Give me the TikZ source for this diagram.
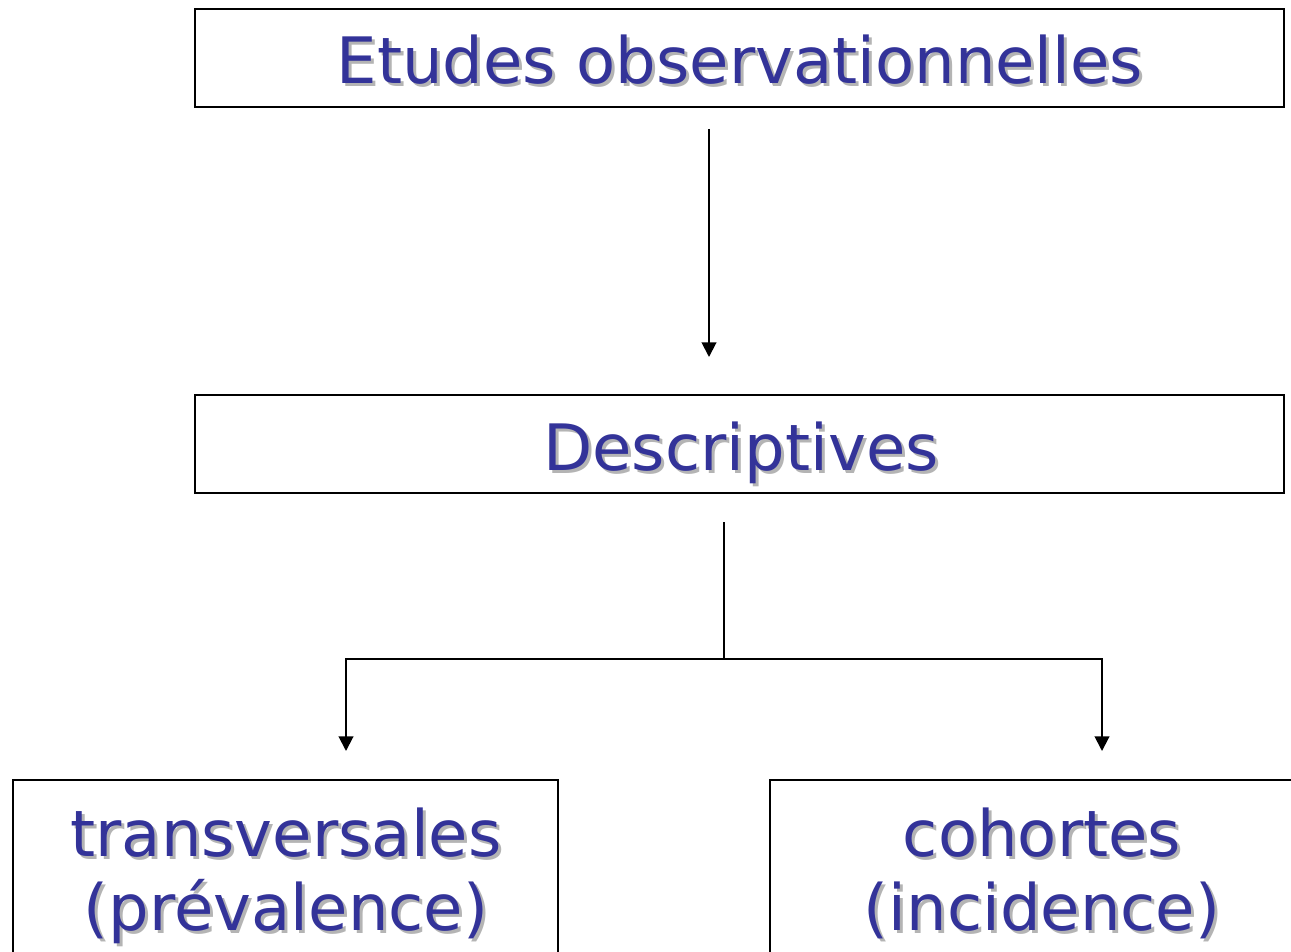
\documentclass[tikz,border=0pt]{standalone}
\usepackage{fontspec}
\setmainfont{DejaVu Sans}
\usetikzlibrary{arrows.meta,calc}
\definecolor{labelblue}{HTML}{333399}
\definecolor{labelshadow}{HTML}{B4B4B4}
\tikzset{
  frame/.style={draw=black, line width=1.6pt, fill=none},
  link/.style={draw=black, line width=1.5pt},
  arrowlink/.style={link, -{Triangle[length=11pt,width=11pt]}},
  caption/.style={font=\fontsize{48}{55}\selectfont, text=labelblue, inner sep=0pt, align=center, anchor=base},
  captionshadow/.style={caption, text=labelshadow},
}
% caption with a soft grey drop shadow behind it
\newcommand{\shadowedlabel}[3]{%
  \node[captionshadow] at ($(#2)+(3,3)$) {#3};
  \node[caption] (#1) at (#2) {#3};
}
\begin{document}
\begin{tikzpicture}[x=0.75pt, y=-0.75pt]
  \clip (0,0) rectangle (1291,952);
  \fill[white] (0,0) rectangle (1291,952);

  % boxes
  \node[frame, minimum width=1089*0.75pt, minimum height=98*0.75pt] (top) at (739.5,58) {};
  \node[frame, minimum width=1089*0.75pt, minimum height=98*0.75pt] (mid) at (739.5,444) {};
  \node[frame, minimum width=545*0.75pt, minimum height=300*0.75pt] (left) at (285.5,930) {};
  \node[frame, minimum width=544*0.75pt, minimum height=300*0.75pt] (right) at (1042,930) {};

  % captions (base = baseline of the last line)
  \coordinate (ptop) at (740,84);
  \coordinate (pmid) at (741,470);
  \coordinate (pleft) at (286,930);
  \coordinate (pright) at (1042,930);
  \shadowedlabel{ttop}{ptop}{Etudes observationnelles}
  \shadowedlabel{tmid}{pmid}{Descriptives}
  \shadowedlabel{tleft}{pleft}{transversales\\(prévalence)}
  \shadowedlabel{tright}{pright}{cohortes\\(incidence)}

  % connectors
  \coordinate (a1) at (709,129);
  \coordinate (a2) at (709,357);
  \draw[arrowlink] (a1) -- (a2);

  \coordinate (b0) at (724,522);
  \coordinate (bj) at (724,659);
  \coordinate (bl) at (346,751);
  \coordinate (br) at (1102,751);
  \draw[link] (b0) -- (bj);
  \draw[arrowlink] (bj) -| (bl);
  \draw[arrowlink] (bj) -| (br);
\end{tikzpicture}
\end{document}
